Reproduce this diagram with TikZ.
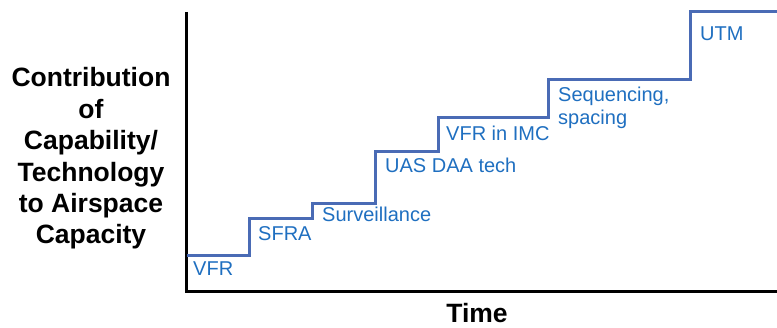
\documentclass[tikz,border=0pt]{standalone}
\usepackage{fontspec}
\setmainfont{Liberation Sans}
\definecolor{stepblue}{HTML}{4A6BB5}
\definecolor{labelblue}{HTML}{1F6FC0}
\begin{document}
\begin{tikzpicture}[x=1pt,y=-1pt,
  axisline/.style={line width=3pt, black},
  stepline/.style={line width=3pt, stepblue},
  steplabel/.style={anchor=base west, inner sep=0pt, text=labelblue, font=\fontsize{20}{23}\selectfont},
  boldlabel/.style={anchor=base, inner sep=0pt, font=\fontsize{26.5}{31.4}\selectfont\bfseries}]
\useasboundingbox (0,0) rectangle (777,328);
% axes
\coordinate (ytop) at (186,12);
\coordinate (origin) at (186,292);
\coordinate (xend) at (777,292);
\draw[axisline] (ytop) -- (origin) -- (xend);
% step curve
\coordinate (s0) at (187,256);
\coordinate (s1) at (249,219);
\coordinate (s2) at (312,204);
\coordinate (s3) at (375,152);
\coordinate (s4) at (438,118);
\coordinate (s5) at (548,80);
\coordinate (s6) at (690,12);
\coordinate (s7) at (777,12);
\draw[stepline] (s0) -| (s1) -| (s2) -| (s3) -| (s4) -| (s5) -| (s6) -- (s7);
% step labels
\node[steplabel] (vfr) at (193,276) {VFR};
\node[steplabel] (sfra) at (258,241) {SFRA};
\node[steplabel] (surv) at (322,222) {Surveillance};
\node[steplabel] (uas) at (385,173) {UAS DAA tech};
\node[steplabel] (imc) at (446,141) {VFR in IMC};
\node[steplabel] (seq) at (558,102) {\begin{tabular}[t]{@{}l@{}}Sequencing,\\spacing\end{tabular}};
\node[steplabel] (utm) at (700,41) {UTM};
% axis titles
\node[boldlabel] (ytitle) at (91,87) {\begin{tabular}[t]{@{}c@{}}Contribution\\of\\Capability/\\Technology\\to Airspace\\Capacity\end{tabular}};
\node[boldlabel] (xtitle) at (477,323) {Time};
\end{tikzpicture}
\end{document}
